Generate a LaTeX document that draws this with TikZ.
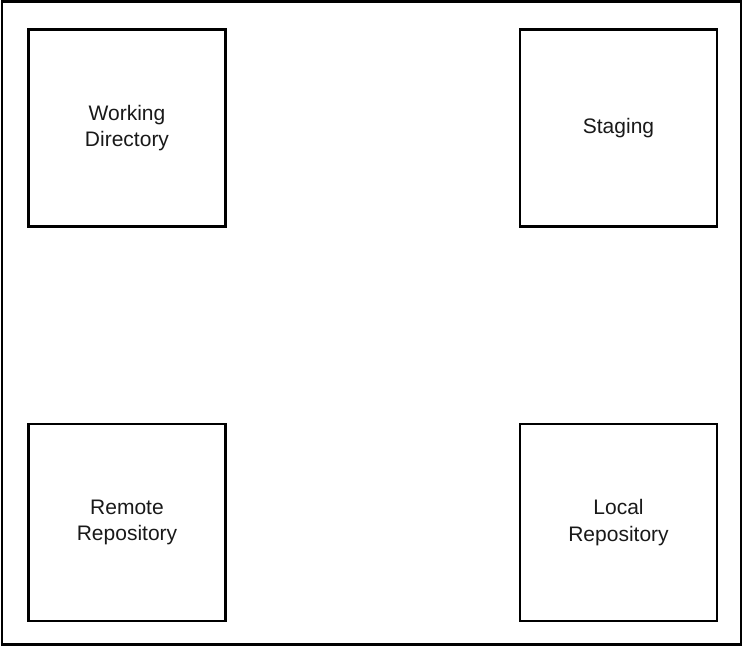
\documentclass[tikz,border=0pt]{standalone}
\usepackage{fontspec}
\setmainfont{Liberation Sans}
\begin{document}
\begin{tikzpicture}[x=1pt,y=-1pt,
  stage/.style={draw=black,line width=2.6pt,minimum width=197pt,minimum height=197pt,
    inner sep=0pt,align=center,font=\fontsize{21pt}{26.7pt}\selectfont,text=black!90}]
\useasboundingbox (0,0) rectangle (743,648);
\node[draw=black,line width=2.5pt,minimum width=739pt,minimum height=643pt,inner sep=0pt] (frame) at (371.5,323) {};
\node[stage] (wd) at (127,128) {Working\\Directory};
\node[stage] (st) at (618.5,128) {Staging};
\node[stage] (rr) at (127,522.5) {Remote\\Repository};
\node[stage] (lr) at (618.5,522.5) {Local\\Repository};
\end{tikzpicture}
\end{document}
